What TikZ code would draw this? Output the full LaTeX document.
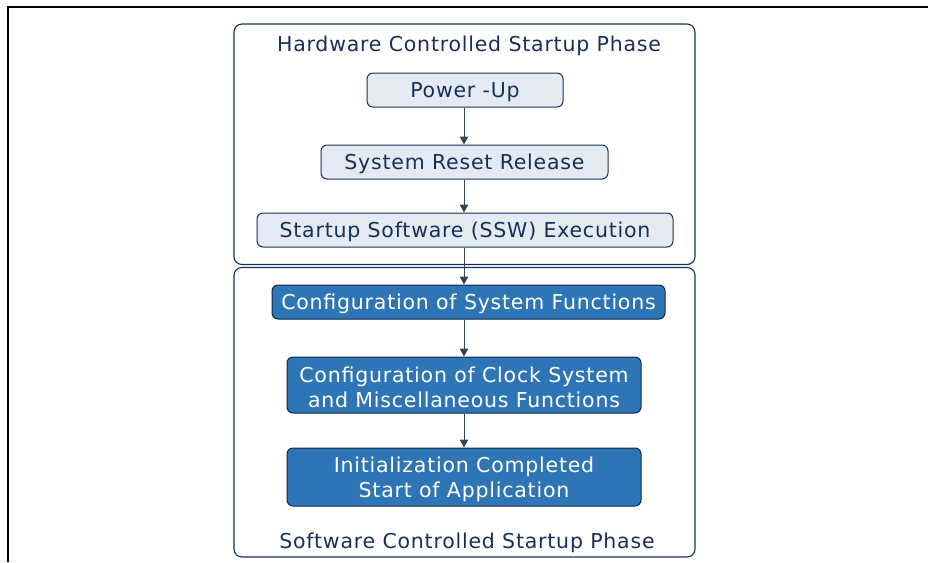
\documentclass[tikz,border=0pt]{standalone}
\usepackage{fontspec}
\setmainfont{DejaVu Sans}
\newfontfamily\spaced[LetterSpace=3.8]{DejaVu Sans}
\usetikzlibrary{arrows.meta}
\definecolor{navy}{HTML}{17305A}
\definecolor{lightfill}{HTML}{E4EAF2}
\definecolor{bluefill}{HTML}{2E75B6}
\definecolor{arrowcol}{HTML}{33445F}
\begin{document}
\begin{tikzpicture}[x=1pt,y=-1pt,
  phase/.style={draw=navy, line width=1.1pt, rounded corners=8pt},
  hwbox/.style={draw=navy, fill=lightfill, line width=1pt, rounded corners=6pt, inner sep=0pt},
  swbox/.style={draw=navy!80!black, fill=bluefill, line width=1pt, rounded corners=6pt, inner sep=0pt},
  txt/.style={font=\spaced\fontsize{20.5}{25}\selectfont, inner sep=0pt, align=center, yshift=-2pt},
  hwtxt/.style={txt, text=navy},
  swtxt/.style={txt, text=white},
  flow/.style={draw=arrowcol, line width=1pt, -{Triangle[length=8pt,width=8.5pt]}}
]
\useasboundingbox (0,0) rectangle (928,562);
% frame
\draw[line width=2.5pt] (928,7) -- (8,7) -- (8,562);
% phases
\draw[phase] (234,24) rectangle (695,264.5);
\draw[phase] (234,267.5) rectangle (695,557);
\node[hwtxt] (hwt) at (469,44) {Hardware Controlled Startup Phase};
\node[hwtxt] (swt) at (467,541) {Software Controlled Startup Phase};
% boxes
\node[hwbox, minimum width=196pt, minimum height=34pt] (pu) at (465,90) {};
\node[hwbox, minimum width=287pt, minimum height=34pt] (srr) at (464.5,162) {};
\node[hwbox, minimum width=416pt, minimum height=34pt] (ssw) at (465,230) {};
\node[swbox, minimum width=393pt, minimum height=34pt] (csf) at (468.5,302) {};
\node[swbox, minimum width=354pt, minimum height=56pt] (ccs) at (464,385) {};
\node[swbox, minimum width=354pt, minimum height=58pt] (ica) at (464,477) {};
% texts
\node[hwtxt] (put) at (pu) {Power -Up};
\node[hwtxt] (srrt) at (srr) {System Reset Release};
\node[hwtxt] (sswt) at (ssw) {Startup Software (SSW) Execution};
\node[swtxt] (csft) at (csf) {Configuration of System Functions};
\node[swtxt] (ccst) at (ccs) {Configuration of Clock System\\and Miscellaneous Functions};
\node[swtxt] (icat) at (ica) {Initialization Completed\\Start of Application};
% arrows
\coordinate (ax) at (464,0);
\draw[flow] (pu.south -| ax) -- (srr.north -| ax);
\draw[flow] (srr.south -| ax) -- (ssw.north -| ax);
\draw[flow] (ssw.south -| ax) -- (csf.north -| ax);
\draw[flow] (csf.south -| ax) -- (ccs.north -| ax);
\draw[flow] (ccs.south -| ax) -- (ica.north -| ax);
\end{tikzpicture}
\end{document}
